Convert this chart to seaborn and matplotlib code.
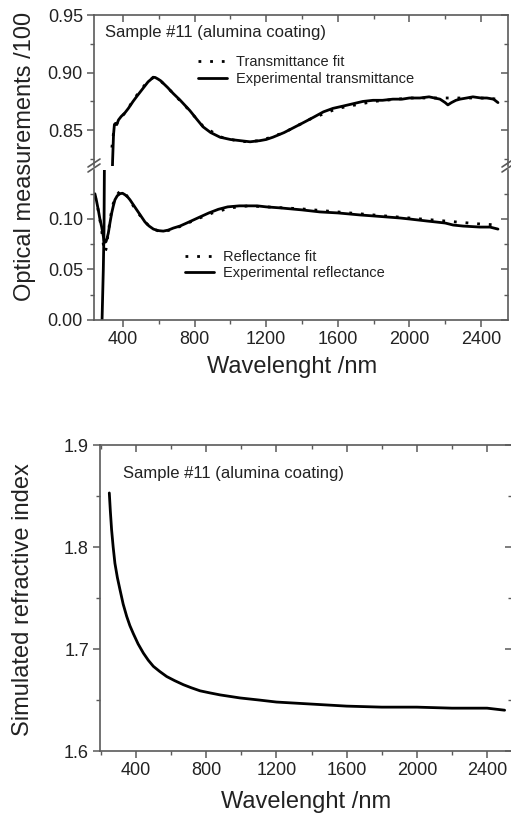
import numpy as np
import pandas as pd
import matplotlib
matplotlib.use("Agg")
import matplotlib.pyplot as plt
from matplotlib.ticker import MultipleLocator
import seaborn as sns

# ---------------- data ----------------
trans_wl = [283, 290, 294, 296, 320, 338, 342, 347, 352, 358, 365, 375, 390, 410, 430, 456, 480,
            500, 520, 540, 555, 568, 580, 595, 610, 630, 650, 680, 720, 750, 774, 810, 847, 890,
            942, 1000, 1054, 1110, 1165, 1200, 1238, 1300, 1350, 1400, 1461, 1520, 1573, 1630,
            1685, 1740, 1797, 1850, 1908, 1960, 2000, 2059, 2110, 2171, 2200, 2215, 2235, 2260,
            2283, 2320, 2355, 2400, 2433, 2470, 2495]
trans_exp = [0.0, 0.05, 0.09, 0.15, 0.50, 0.800, 0.824, 0.846, 0.855, 0.856, 0.855, 0.859, 0.862,
             0.865, 0.869, 0.875, 0.880, 0.884, 0.888, 0.892, 0.894, 0.896, 0.8958, 0.8945, 0.893,
             0.890, 0.887, 0.882, 0.876, 0.871, 0.867, 0.860, 0.853, 0.848, 0.844, 0.842, 0.841,
             0.840, 0.841, 0.842, 0.844, 0.848, 0.852, 0.856, 0.861, 0.866, 0.869, 0.871, 0.873,
             0.875, 0.876, 0.876, 0.877, 0.877, 0.878, 0.878, 0.879, 0.877, 0.874, 0.872, 0.874,
             0.876, 0.877, 0.878, 0.879, 0.878, 0.878, 0.877, 0.874]

tfit_wl = [338, 350, 380, 420, 470, 520, 550, 575, 600, 630, 680, 760, 850, 950, 1060, 1170,
           1300, 1450, 1600, 1800, 2000, 2200, 2400, 2500]
tfit = [0.835, 0.852, 0.859, 0.867, 0.879, 0.889, 0.894, 0.896, 0.894, 0.890, 0.882, 0.869,
        0.853, 0.844, 0.840, 0.841, 0.848, 0.860, 0.869, 0.875, 0.878, 0.878, 0.878, 0.877]

refl_wl = [243, 252, 262, 271, 281, 288, 294, 300, 305, 311, 318, 327, 337, 346, 355, 368, 383,
           397, 411, 425, 439, 458, 477, 500, 523, 546, 570, 597, 625, 653, 681, 718, 756, 793,
           830, 880, 933, 985, 1050, 1100, 1150, 1200, 1277, 1400, 1500, 1600, 1724, 1800, 1947,
           2000, 2098, 2150, 2200, 2245, 2300, 2394, 2450, 2495]
refl_exp = [0.125, 0.118, 0.109, 0.100, 0.092, 0.085, 0.079, 0.077, 0.0775, 0.081, 0.086, 0.096,
            0.106, 0.113, 0.119, 0.123, 0.125, 0.1255, 0.124, 0.122, 0.119, 0.114, 0.109, 0.103,
            0.097, 0.093, 0.090, 0.0885, 0.088, 0.089, 0.091, 0.093, 0.096, 0.099, 0.102, 0.106,
            0.1096, 0.112, 0.113, 0.113, 0.113, 0.112, 0.111, 0.109, 0.107, 0.106, 0.104, 0.103,
            0.101, 0.100, 0.098, 0.097, 0.096, 0.094, 0.093, 0.092, 0.092, 0.090]

rfit_wl = [245, 258, 270, 280, 290, 298, 305, 315, 330, 345, 362, 385, 405, 425, 450, 480, 510,
           540, 570, 600, 640, 680, 740, 800, 900, 1000, 1100, 1200, 1400, 1600, 1800, 2000,
           2200, 2400, 2500]
rfit = [0.122, 0.112, 0.100, 0.090, 0.075, 0.067, 0.070, 0.083, 0.102, 0.115, 0.123, 0.128,
        0.127, 0.122, 0.115, 0.107, 0.100, 0.094, 0.090, 0.088, 0.088, 0.090, 0.094, 0.099,
        0.106, 0.111, 0.113, 0.112, 0.110, 0.107, 0.104, 0.101, 0.098, 0.095, 0.094]

n_wl = [248, 254, 261, 270, 280, 294, 309, 327, 347, 365, 385, 412, 442, 470, 499, 535, 575, 620,
        670, 715, 765, 820, 879, 993, 1100, 1200, 1400, 1600, 1800, 2000, 2200, 2400, 2500]
n_val = [1.853, 1.835, 1.817, 1.800, 1.784, 1.770, 1.758, 1.744, 1.732, 1.723, 1.715, 1.705,
         1.696, 1.689, 1.683, 1.678, 1.673, 1.669, 1.665, 1.662, 1.659, 1.657, 1.655, 1.652,
         1.650, 1.648, 1.646, 1.644, 1.643, 1.643, 1.642, 1.642, 1.640]

x_major = [400, 800, 1200, 1600, 2000, 2400]

# ---------------- style ----------------
sns.set_style("ticks")
plt.rcParams['font.family'] = ['Liberation Sans', 'DejaVu Sans']
SPC = '#5a5a5a'
TXT = '#222222'
plt.rcParams.update({
    'axes.edgecolor': SPC, 'axes.linewidth': 1.2,
    'xtick.color': SPC, 'ytick.color': SPC,
    'xtick.labelcolor': TXT, 'ytick.labelcolor': TXT,
    'xtick.labelsize': 13, 'ytick.labelsize': 13,
    'xtick.major.size': 5, 'ytick.major.size': 5,
    'xtick.minor.size': 3, 'ytick.minor.size': 3,
    'xtick.major.width': 1.1, 'ytick.major.width': 1.1,
    'xtick.minor.width': 1.0, 'ytick.minor.width': 1.0,
})

W, H = 511, 821
fig = plt.figure(figsize=(W / 100, H / 100), dpi=100)


def fr(x0, y0, x1, y1):
    # pixel box (left, top, right, bottom) -> figure fraction rect
    return [x0 / W, 1 - y1 / H, (x1 - x0) / W, (y1 - y0) / H]


ax_up = fig.add_axes(fr(94, 15, 508, 166))
ax_lo = fig.add_axes(fr(94, 170, 508, 320))
ax_n = fig.add_axes(fr(100, 445, 512, 751))

LW = 2.0
DOT = (0, (1, 3.2))

tdf = pd.DataFrame({'wl': trans_wl, 'T': trans_exp})
tfdf = pd.DataFrame({'wl': tfit_wl, 'T': tfit})
rdf = pd.DataFrame({'wl': refl_wl, 'R': refl_exp})
rfdf = pd.DataFrame({'wl': rfit_wl, 'R': rfit})
ndf = pd.DataFrame({'wl': n_wl, 'n': n_val})

# upper part (transmittance)
sns.lineplot(data=tfdf, x='wl', y='T', ax=ax_up, color='black', lw=LW, linestyle=DOT,
             label='Transmittance fit')
sns.lineplot(data=tdf, x='wl', y='T', ax=ax_up, color='black', lw=LW,
             label='Experimental transmittance')
# lower part (reflectance + transmittance edge)
sns.lineplot(data=rfdf, x='wl', y='R', ax=ax_lo, color='black', lw=LW, linestyle=DOT,
             label='Reflectance fit')
sns.lineplot(data=rdf, x='wl', y='R', ax=ax_lo, color='black', lw=LW,
             label='Experimental reflectance')
sns.lineplot(data=tdf, x='wl', y='T', ax=ax_lo, color='black', lw=LW, legend=False)

sns.lineplot(data=ndf, x='wl', y='n', ax=ax_n, color='black', lw=LW, legend=False)

xlim_top = (238, 2551)
ax_up.set_xlim(*xlim_top)
ax_lo.set_xlim(*xlim_top)
ax_up.set_ylim(0.819, 0.95)
ax_lo.set_ylim(0.0, 0.1485)
ax_n.set_xlim(195, 2542)
ax_n.set_ylim(1.6, 1.9)

for ax in (ax_up, ax_lo, ax_n):
    ax.set_xlabel('')
    ax.set_ylabel('')
    ax.xaxis.set_major_locator(MultipleLocator(400))
    ax.xaxis.set_minor_locator(MultipleLocator(200))
    ax.tick_params(which='both', direction='out', top=False, right=False, pad=3)
    ax.set_xticks(x_major)
    ax.set_xticklabels([str(v) for v in x_major])
    ax.spines['top'].set_visible(True)
    ax.spines['right'].set_visible(True)
    ax.set_facecolor('none')

ax_up.set_yticks([0.85, 0.90, 0.95])
ax_up.set_yticklabels(['0.85', '0.90', '0.95'])
ax_up.yaxis.set_minor_locator(MultipleLocator(0.025))
ax_lo.set_yticks([0.0, 0.05, 0.10])
ax_lo.set_yticklabels(['0.00', '0.05', '0.10'])
ax_lo.yaxis.set_minor_locator(MultipleLocator(0.025))
ax_n.set_yticks([1.6, 1.7, 1.8, 1.9])
ax_n.set_yticklabels(['1.6', '1.7', '1.8', '1.9'])
ax_n.yaxis.set_minor_locator(MultipleLocator(0.05))

# broken-axis: hide inner spines
ax_up.spines['bottom'].set_visible(False)
ax_up.tick_params(axis='x', which='both', bottom=False, labelbottom=False)
ax_lo.spines['top'].set_visible(False)


def mirror(ax, top=True, right=True):
    if top:
        sx = ax.secondary_xaxis('top')
        sx.xaxis.set_major_locator(MultipleLocator(400))
        sx.xaxis.set_minor_locator(MultipleLocator(200))
        sx.tick_params(which='both', direction='in', labeltop=False)
        sx.spines['top'].set_visible(False)
    if right:
        sy = ax.secondary_yaxis('right')
        sy.yaxis.set_major_locator(ax.yaxis.get_major_locator())
        sy.yaxis.set_minor_locator(ax.yaxis.get_minor_locator())
        sy.tick_params(which='both', direction='in', labelright=False)
        sy.spines['right'].set_visible(False)


mirror(ax_up, top=True, right=True)
mirror(ax_lo, top=False, right=True)
mirror(ax_n, top=True, right=True)

# break marks
for xp in (94, 508):
    for dy in (0, 5):
        fig.add_artist(plt.Line2D([(xp - 6) / W, (xp + 6) / W],
                                  [1 - (172 - dy) / H, 1 - (164 - dy) / H],
                                  color=SPC, lw=1.2, transform=fig.transFigure))

# legends
lg1 = ax_up.legend(loc='upper left', bbox_to_anchor=((198 - 94) / 414, (166 - 55) / 151),
                   frameon=False, fontsize=10.5, handlelength=2.0, handletextpad=0.6,
                   labelspacing=0.2, borderpad=0, borderaxespad=0)
lg2 = ax_lo.legend(loc='upper left', bbox_to_anchor=((185 - 94) / 414, (320 - 250) / 150),
                   frameon=False, fontsize=10.5, handlelength=2.0, handletextpad=0.6,
                   labelspacing=0.15, borderpad=0, borderaxespad=0)
for lg in (lg1, lg2):
    for t in lg.get_texts():
        t.set_color(TXT)

# annotations
ax_up.text((105 - 94) / 414, (166 - 32) / 151, 'Sample #11 (alumina coating)',
           transform=ax_up.transAxes, fontsize=12, color=TXT, va='center', ha='left')
ax_n.text((123 - 100) / 412, (751 - 473) / 306, 'Sample #11 (alumina coating)',
          transform=ax_n.transAxes, fontsize=12, color=TXT, va='center', ha='left')

# axis labels
ax_lo.set_xlabel('Wavelenght /nm', fontsize=17, color=TXT)
ax_lo.xaxis.set_label_coords((292.5 - 94) / 414, (320 - 356) / 150)
fig.text(25 / W, 1 - 156.5 / H, 'Optical measurements /100', rotation=90, fontsize=17,
         color=TXT, ha='center', va='center')
ax_n.set_xlabel('Wavelenght /nm', fontsize=17, color=TXT)
ax_n.xaxis.set_label_coords((306 - 100) / 412, (751 - 791) / 306)
ax_n.set_ylabel('Simulated refractive index', fontsize=17, color=TXT)
ax_n.yaxis.set_label_coords((34 - 100) / 412, (751 - 600) / 306)

fig.savefig('out.png', dpi=100, facecolor='white')
